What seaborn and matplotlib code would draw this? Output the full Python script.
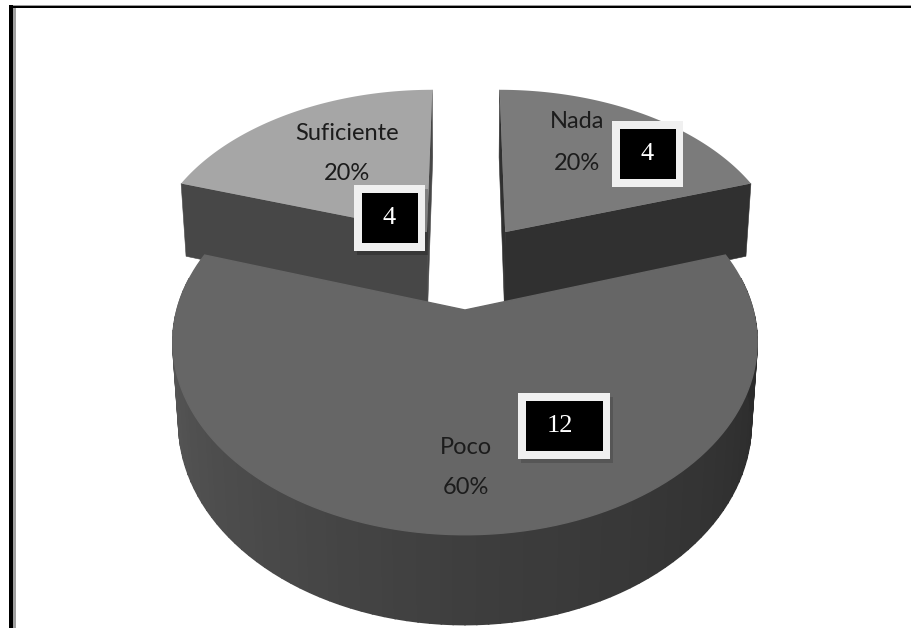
import numpy as np
import matplotlib
matplotlib.use('Agg')
import matplotlib.pyplot as plt
from matplotlib.patches import Rectangle
import seaborn as sns

categorias = ['Nada', 'Suficiente', 'Poco']
valores = [4, 4, 12]
porcentajes = ['20%', '20%', '60%']
cajas = ['4', '4', '12']

# pseudo 3d pie: unit circle projected with a small perspective
CX, CY = 465, 310
A, B = 288, 187
K, M, D = 0.168, 0.02, 81


def proyectar(u, v, d=0.0):
    w = 1 + K * v + M * d
    return CX + A * u / w, CY + (D * d - B * v) / w


def arco(t1, t2, du, dv, r=1.02, n=120):
    t = np.radians(np.linspace(t1, t2, n))
    return du + r * np.cos(t), dv + r * np.sin(t)


def pared(ax, u, v, color, lw=0.4):
    x1, y1 = proyectar(u, v, 0)
    x2, y2 = proyectar(u[::-1], v[::-1], 1)
    ax.fill(np.r_[x1, x2], np.r_[y1, y2], color=color, lw=lw, zorder=1)


sns.set_theme(style='white')
plt.rcParams['font.family'] = ['Lato', 'DejaVu Sans']

fig, ax = plt.subplots(figsize=(9.11, 6.28), dpi=100)
ax.set_position([0, 0, 1, 1])
ax.set_xlim(0, 911)
ax.set_ylim(628, 0)
ax.axis('off')

fracciones = np.array(valores) / sum(valores)
bordes = 18 + 360 * np.r_[0, np.cumsum(fracciones)]
desplaza = [(0.15, 0.448), (-0.142, 0.448), (0, 0)]
radios = [1.02, 1.02, 1.0]
color_cara = ['#7b7b7b', '#a6a6a6', '#666666']
color_pared = ['#303030', '#474747', None]

# slices at the back first, the big one goes over them
for i in [0, 1, 2]:
    du, dv = desplaza[i]
    t1, t2 = bordes[i], bordes[i + 1]
    u, v = arco(t1, t2, du, dv, r=radios[i])
    borde_cara = 0
    if color_pared[i] is not None:
        # straight side walls of the pulled out slices
        for t in (t1, t2):
            lu = np.array([du, du + radios[i] * np.cos(np.radians(t))])
            lv = np.array([dv, dv + radios[i] * np.sin(np.radians(t))])
            pared(ax, lu, lv, color_pared[i])
    else:
        # curved front wall with the gradient, light on the left
        grises = sns.blend_palette(['#5c5c5c', '#3e3e3e', '#282828'], 100)
        cortes = np.linspace(t1 + 8, t2 - 8, 101)
        for j in range(100):
            su, sv = arco(cortes[j], cortes[j + 1], du, dv, r=radios[i], n=6)
            pared(ax, su, sv, grises[j], lw=1.2)
        borde_cara = 1.0
    x, y = proyectar(np.r_[du, u], np.r_[dv, v])
    ax.fill(x, y, color=color_cara[i], lw=borde_cara, zorder=2)

# labels, two separate lines because the original spacing is wide
pos_texto = [(577, 122, 163), (347, 133, 173), (466, 447, 488)]
for nombre, pct, (tx, y1, y2) in zip(categorias, porcentajes, pos_texto):
    ax.text(tx, y1, nombre, ha='center', va='center', fontsize=17, color='#1c1c1c', zorder=3)
    ax.text(tx, y2, pct, ha='center', va='center', fontsize=17, color='#1c1c1c', zorder=3)

# black number boxes, the one on Nada has no visible shadow
pos_caja = [(612, 121, 71, 66), (354, 185, 71, 66), (518, 393, 92, 66)]
sombra = [0, 0.22, 0.15]
for texto, (bx, by, bw, bh), alfa in zip(cajas, pos_caja, sombra):
    ax.add_patch(Rectangle((bx + 3, by + 4), bw, bh, fc='#000000', alpha=alfa, lw=0, zorder=4))
    ax.add_patch(Rectangle((bx, by), bw, bh, fc='#f0f0f0', lw=0, zorder=5))
    ax.add_patch(Rectangle((bx + 8, by + 8), bw - 15, bh - 16, fc='black', lw=0, zorder=6))
    ax.text(bx + bw / 2 + (-4 if texto == '12' else 0), by + bh / 2 + 0.5, texto, ha='center', va='center',
            color='white', fontsize=19, family='Liberation Serif', zorder=7)

# page border
ax.add_patch(Rectangle((12.7, 8), 3, 620, fc='#a0a0a0', lw=0, zorder=8))
ax.add_patch(Rectangle((9.3, 5), 901.7, 3.4, fc='#9a9a9a', lw=0, zorder=8))
ax.add_patch(Rectangle((9.3, 5), 3.2, 623, fc='black', lw=0, zorder=9))
ax.add_patch(Rectangle((9.3, 5.7), 901.7, 2.1, fc='black', lw=0, zorder=9))

fig.savefig('out.png', dpi=100, facecolor='white')
